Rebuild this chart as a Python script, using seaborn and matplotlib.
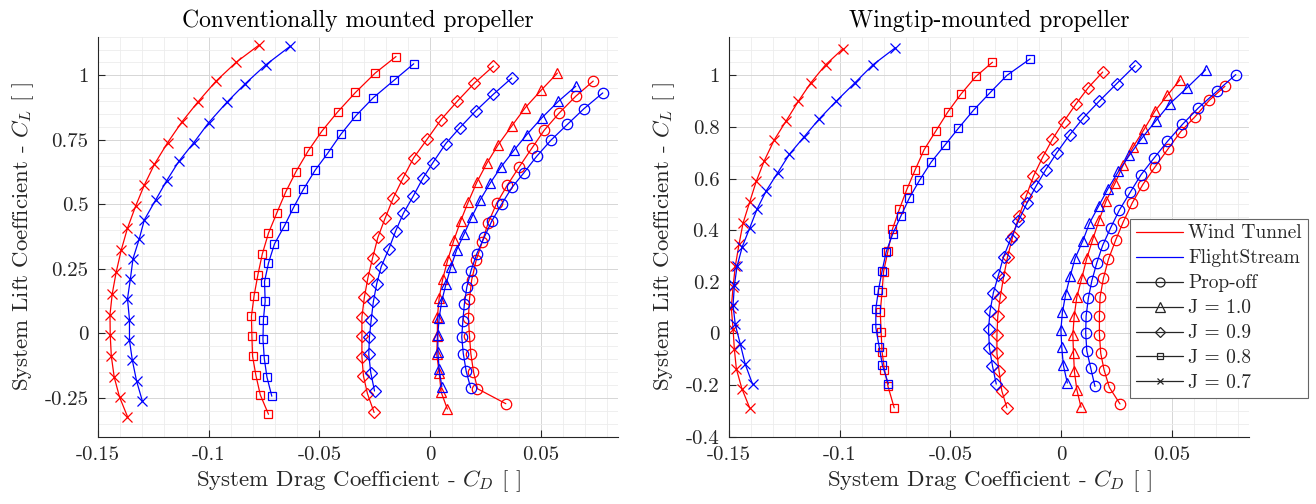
import numpy as np
import pandas as pd
import seaborn as sns
import matplotlib
matplotlib.use("Agg")
import matplotlib.pyplot as plt
from matplotlib.lines import Line2D
from matplotlib.ticker import MultipleLocator, FuncFormatter

# ---------------- data ----------------
# Conventionally mounted propeller -- Wind Tunnel
conv_wt_j07_cd = [-0.0772, -0.0876, -0.0968, -0.1049, -0.1121, -0.1186, -0.1245, -0.1291, -0.1330, -0.1367, -0.1395, -0.1418, -0.1436, -0.1446, -0.1445, -0.1440, -0.1427, -0.1403, -0.1367]
conv_wt_j07_cl = [1.118, 1.051, 0.977, 0.897, 0.820, 0.739, 0.656, 0.575, 0.494, 0.408, 0.324, 0.238, 0.153, 0.073, -0.006, -0.088, -0.169, -0.246, -0.322]
conv_wt_j08_cd = [-0.0154, -0.0248, -0.0337, -0.0418, -0.0489, -0.0551, -0.0606, -0.0653, -0.0692, -0.0730, -0.0758, -0.0778, -0.0795, -0.0807, -0.0805, -0.0802, -0.0787, -0.0767, -0.0730]
conv_wt_j08_cl = [1.073, 1.009, 0.934, 0.858, 0.784, 0.707, 0.627, 0.547, 0.468, 0.389, 0.308, 0.227, 0.147, 0.067, -0.010, -0.088, -0.162, -0.238, -0.313]
conv_wt_j09_cd = [0.0286, 0.0200, 0.0123, 0.0050, -0.0014, -0.0074, -0.0123, -0.0166, -0.0203, -0.0236, -0.0260, -0.0281, -0.0297, -0.0308, -0.0308, -0.0308, -0.0301, -0.0283, -0.0253]
conv_wt_j09_cl = [1.036, 0.970, 0.900, 0.829, 0.752, 0.681, 0.601, 0.526, 0.447, 0.372, 0.292, 0.215, 0.140, 0.064, -0.010, -0.090, -0.165, -0.233, -0.306]
conv_wt_j10_cd = [0.0575, 0.0501, 0.0430, 0.0369, 0.0308, 0.0256, 0.0211, 0.0173, 0.0138, 0.0108, 0.0080, 0.0057, 0.0041, 0.0033, 0.0033, 0.0030, 0.0041, 0.0050, 0.0078]
conv_wt_j10_cl = [1.009, 0.942, 0.875, 0.804, 0.732, 0.659, 0.586, 0.511, 0.436, 0.363, 0.286, 0.211, 0.138, 0.064, -0.010, -0.081, -0.152, -0.227, -0.293]
conv_wt_off_cd = [0.0737, 0.0659, 0.0584, 0.0516, 0.0459, 0.0403, 0.0349, 0.0301, 0.0263, 0.0236, 0.0208, 0.0188, 0.0178, 0.0173, 0.0178, 0.0184, 0.0196, 0.0214, 0.0342]
conv_wt_off_cl = [0.978, 0.920, 0.855, 0.788, 0.717, 0.646, 0.575, 0.505, 0.430, 0.356, 0.283, 0.208, 0.134, 0.061, -0.010, -0.078, -0.148, -0.214, -0.272]

# Conventionally mounted propeller -- FlightStream
conv_fs_j07_cd = [-0.0632, -0.0742, -0.0835, -0.0918, -0.1001, -0.1067, -0.1135, -0.1190, -0.1240, -0.1291, -0.1314, -0.1342, -0.1354, -0.1367, -0.1358, -0.1358, -0.1345, -0.1326, -0.1300]
conv_fs_j07_cl = [1.113, 1.041, 0.968, 0.896, 0.816, 0.740, 0.667, 0.592, 0.517, 0.440, 0.366, 0.290, 0.211, 0.134, 0.054, -0.027, -0.104, -0.184, -0.261]
conv_fs_j08_cd = [-0.0074, -0.0163, -0.0256, -0.0336, -0.0403, -0.0462, -0.0519, -0.0572, -0.0617, -0.0658, -0.0703, -0.0730, -0.0748, -0.0745, -0.0753, -0.0755, -0.0749, -0.0737, -0.0715]
conv_fs_j08_cl = [1.045, 0.981, 0.914, 0.843, 0.772, 0.699, 0.633, 0.559, 0.488, 0.417, 0.347, 0.273, 0.201, 0.125, 0.054, -0.023, -0.097, -0.169, -0.243]
conv_fs_j09_cd = [0.0369, 0.0286, 0.0206, 0.0135, 0.0071, 0.0012, -0.0033, -0.0075, -0.0121, -0.0156, -0.0186, -0.0221, -0.0241, -0.0256, -0.0266, -0.0274, -0.0277, -0.0268, -0.0251]
conv_fs_j09_cl = [0.990, 0.927, 0.862, 0.798, 0.736, 0.661, 0.601, 0.534, 0.465, 0.396, 0.328, 0.259, 0.193, 0.125, 0.054, -0.013, -0.081, -0.152, -0.223]
conv_fs_j10_cd = [0.0658, 0.0580, 0.0504, 0.0437, 0.0379, 0.0321, 0.0271, 0.0226, 0.0188, 0.0154, 0.0120, 0.0094, 0.0072, 0.0053, 0.0041, 0.0035, 0.0035, 0.0041, 0.0053]
conv_fs_j10_cl = [0.958, 0.900, 0.835, 0.771, 0.710, 0.646, 0.582, 0.517, 0.451, 0.386, 0.324, 0.258, 0.192, 0.127, 0.061, -0.004, -0.071, -0.139, -0.206]
conv_fs_off_cd = [0.0780, 0.0695, 0.0620, 0.0546, 0.0482, 0.0424, 0.0370, 0.0323, 0.0279, 0.0244, 0.0211, 0.0185, 0.0166, 0.0155, 0.0148, 0.0143, 0.0150, 0.0163, 0.0183]
conv_fs_off_cl = [0.932, 0.871, 0.810, 0.749, 0.687, 0.623, 0.566, 0.501, 0.436, 0.372, 0.309, 0.244, 0.180, 0.115, 0.050, -0.014, -0.078, -0.146, -0.210]

# Wingtip-mounted propeller -- Wind Tunnel
tip_wt_j07_cd = [-0.0986, -0.1064, -0.1130, -0.1187, -0.1242, -0.1296, -0.1341, -0.1377, -0.1407, -0.1437, -0.1455, -0.1472, -0.1482, -0.1490, -0.1482, -0.1476, -0.1467, -0.1442, -0.1407]
tip_wt_j07_cl = [1.103, 1.041, 0.972, 0.900, 0.824, 0.750, 0.669, 0.590, 0.509, 0.427, 0.346, 0.260, 0.180, 0.099, 0.019, -0.062, -0.137, -0.214, -0.288]
tip_wt_j08_cd = [-0.0310, -0.0385, -0.0453, -0.0512, -0.0565, -0.0619, -0.0659, -0.0697, -0.0731, -0.0762, -0.0782, -0.0802, -0.0809, -0.0817, -0.0813, -0.0809, -0.0798, -0.0782, -0.0754]
tip_wt_j08_cl = [1.051, 0.996, 0.927, 0.858, 0.786, 0.712, 0.635, 0.558, 0.481, 0.404, 0.320, 0.240, 0.160, 0.083, 0.006, -0.070, -0.140, -0.205, -0.288]
tip_wt_j09_cd = [0.0188, 0.0123, 0.0066, 0.0011, -0.0039, -0.0084, -0.0125, -0.0158, -0.0190, -0.0218, -0.0242, -0.0260, -0.0275, -0.0286, -0.0290, -0.0290, -0.0280, -0.0268, -0.0245]
tip_wt_j09_cl = [1.013, 0.953, 0.888, 0.820, 0.753, 0.682, 0.609, 0.532, 0.455, 0.378, 0.297, 0.218, 0.141, 0.068, -0.006, -0.077, -0.147, -0.222, -0.288]
tip_wt_j10_cd = [0.0537, 0.0480, 0.0424, 0.0375, 0.0326, 0.0281, 0.0244, 0.0203, 0.0172, 0.0143, 0.0116, 0.0093, 0.0071, 0.0059, 0.0053, 0.0056, 0.0060, 0.0071, 0.0090]
tip_wt_j10_cl = [0.983, 0.923, 0.862, 0.791, 0.724, 0.654, 0.583, 0.513, 0.440, 0.365, 0.291, 0.214, 0.141, 0.067, -0.006, -0.077, -0.147, -0.218, -0.286]
tip_wt_off_cd = [0.0740, 0.0670, 0.0605, 0.0540, 0.0482, 0.0424, 0.0369, 0.0322, 0.0281, 0.0247, 0.0214, 0.0191, 0.0176, 0.0173, 0.0173, 0.0179, 0.0194, 0.0218, 0.0266]
tip_wt_off_cl = [0.958, 0.904, 0.840, 0.782, 0.714, 0.645, 0.577, 0.507, 0.433, 0.363, 0.288, 0.214, 0.141, 0.068, -0.004, -0.077, -0.141, -0.209, -0.273]

# Wingtip-mounted propeller -- FlightStream
tip_fs_j07_cd = [-0.0749, -0.0850, -0.0933, -0.1016, -0.1093, -0.1163, -0.1227, -0.1281, -0.1332, -0.1374, -0.1407, -0.1440, -0.1464, -0.1476, -0.1482, -0.1472, -0.1449, -0.1427, -0.1394]
tip_fs_j07_cl = [1.107, 1.041, 0.970, 0.900, 0.831, 0.760, 0.695, 0.622, 0.553, 0.481, 0.408, 0.337, 0.260, 0.186, 0.109, 0.035, -0.042, -0.119, -0.196]
tip_fs_j08_cd = [-0.0140, -0.0245, -0.0321, -0.0396, -0.0464, -0.0524, -0.0587, -0.0640, -0.0685, -0.0724, -0.0760, -0.0790, -0.0809, -0.0825, -0.0837, -0.0837, -0.0822, -0.0807, -0.0780]
tip_fs_j08_cl = [1.064, 1.000, 0.933, 0.865, 0.795, 0.731, 0.664, 0.593, 0.526, 0.455, 0.387, 0.317, 0.241, 0.169, 0.096, 0.023, -0.051, -0.124, -0.196]
tip_fs_j09_cd = [0.0334, 0.0251, 0.0173, 0.0101, 0.0038, -0.0019, -0.0069, -0.0114, -0.0155, -0.0193, -0.0227, -0.0260, -0.0283, -0.0306, -0.0321, -0.0328, -0.0324, -0.0310, -0.0293]
tip_fs_j09_cl = [1.038, 0.968, 0.901, 0.836, 0.769, 0.701, 0.635, 0.570, 0.504, 0.436, 0.368, 0.297, 0.227, 0.158, 0.087, 0.017, -0.055, -0.126, -0.196]
tip_fs_j10_cd = [0.0653, 0.0570, 0.0492, 0.0428, 0.0364, 0.0308, 0.0259, 0.0211, 0.0169, 0.0128, 0.0098, 0.0063, 0.0041, 0.0021, 0.0006, -0.0001, 0.0003, 0.0010, 0.0028]
tip_fs_j10_cl = [1.022, 0.953, 0.891, 0.824, 0.756, 0.690, 0.628, 0.560, 0.493, 0.427, 0.359, 0.291, 0.222, 0.154, 0.083, 0.015, -0.054, -0.122, -0.192]
tip_fs_off_cd = [0.0789, 0.0703, 0.0620, 0.0548, 0.0480, 0.0420, 0.0361, 0.0312, 0.0263, 0.0224, 0.0188, 0.0161, 0.0139, 0.0123, 0.0113, 0.0111, 0.0116, 0.0134, 0.0153]
tip_fs_off_cl = [1.003, 0.938, 0.874, 0.810, 0.744, 0.680, 0.615, 0.547, 0.478, 0.410, 0.342, 0.273, 0.205, 0.137, 0.068, 0.003, -0.067, -0.135, -0.205]

panel_titles = ["Conventionally mounted propeller", "Wingtip-mounted propeller"]
source_names = ["Wind Tunnel", "FlightStream"]
case_names = ["Prop-off", "J = 1.0", "J = 0.9", "J = 0.8", "J = 0.7"]
xlabel_text = "System Drag Coefficient - $C_D$ [ ]"
ylabel_text = "System Lift Coefficient - $C_L$ [ ]"

panels = [
    {
        "Wind Tunnel": [(conv_wt_off_cd, conv_wt_off_cl), (conv_wt_j10_cd, conv_wt_j10_cl), (conv_wt_j09_cd, conv_wt_j09_cl), (conv_wt_j08_cd, conv_wt_j08_cl), (conv_wt_j07_cd, conv_wt_j07_cl)],
        "FlightStream": [(conv_fs_off_cd, conv_fs_off_cl), (conv_fs_j10_cd, conv_fs_j10_cl), (conv_fs_j09_cd, conv_fs_j09_cl), (conv_fs_j08_cd, conv_fs_j08_cl), (conv_fs_j07_cd, conv_fs_j07_cl)],
    },
    {
        "Wind Tunnel": [(tip_wt_off_cd, tip_wt_off_cl), (tip_wt_j10_cd, tip_wt_j10_cl), (tip_wt_j09_cd, tip_wt_j09_cl), (tip_wt_j08_cd, tip_wt_j08_cl), (tip_wt_j07_cd, tip_wt_j07_cl)],
        "FlightStream": [(tip_fs_off_cd, tip_fs_off_cl), (tip_fs_j10_cd, tip_fs_j10_cl), (tip_fs_j09_cd, tip_fs_j09_cl), (tip_fs_j08_cd, tip_fs_j08_cl), (tip_fs_j07_cd, tip_fs_j07_cl)],
    },
]

# ---------------- style ----------------
sns.set_theme(style="white")
plt.rcParams["font.family"] = ["cmr10", "DejaVu Serif"]
plt.rcParams["mathtext.fontset"] = "cm"
plt.rcParams["axes.unicode_minus"] = False
plt.rcParams["axes.formatter.use_mathtext"] = False

colors = {"Wind Tunnel": "#ff0000", "FlightStream": "#0000ff"}
markers = ["o", "^", "D", "s", "x"]
msizes = [7.5, 7.5, 6.6, 6.3, 6.5]
leg_msizes = [6.5, 6.5, 5.5, 5.0, 4.5]

fig = plt.figure(figsize=(13.16, 5.04), dpi=100)
ax_pos = [[0.0745, 0.1335, 0.3953, 0.7937], [0.5540, 0.1335, 0.3953, 0.7937]]
fmt = FuncFormatter(lambda v, p: ("%g" % round(v, 4)))

for pi, panel in enumerate(panels):
    ax = fig.add_axes(ax_pos[pi])
    for src in source_names:
        for ci, (cd, cl) in enumerate(panel[src]):
            df = pd.DataFrame({"CD": cd, "CL": cl})
            sns.lineplot(data=df, x="CD", y="CL", sort=False, estimator=None, ax=ax,
                         color=colors[src], lw=0.9, marker=markers[ci], markersize=msizes[ci],
                         markerfacecolor="none", markeredgecolor=colors[src], markeredgewidth=0.9,
                         legend=False)
    ax.set_xlim(-0.15, 0.085)
    ax.set_ylim(-0.4, 1.15)
    ax.xaxis.set_major_locator(MultipleLocator(0.05))
    ax.xaxis.set_minor_locator(MultipleLocator(0.01))
    if pi == 0:
        ax.set_yticks([-0.25, 0, 0.25, 0.5, 0.75, 1.0])
    else:
        ax.set_yticks([-0.4, -0.2, 0, 0.2, 0.4, 0.6, 0.8, 1.0])
    ax.yaxis.set_minor_locator(MultipleLocator(0.05))
    ax.xaxis.set_major_formatter(fmt)
    ax.yaxis.set_major_formatter(fmt)
    ax.grid(True, which="major", color="#d6d6d6", lw=0.7)
    ax.grid(True, which="minor", color="#ececec", lw=0.6)
    ax.set_axisbelow(True)
    for s in ["top", "right"]:
        ax.spines[s].set_visible(False)
    for s in ["left", "bottom"]:
        ax.spines[s].set_color("#262626")
        ax.spines[s].set_linewidth(0.8)
    ax.tick_params(which="major", direction="in", length=5, width=0.8, color="#262626",
                   labelsize=15, labelcolor="#262626", left=True, bottom=True, pad=7)
    ax.tick_params(which="minor", length=0)
    ax.set_xlabel(xlabel_text, fontsize=16.5, color="#262626", labelpad=3)
    ax.set_ylabel(ylabel_text, fontsize=16.5, color="#262626", labelpad=6)
    ax.set_title(panel_titles[pi], fontsize=17, color="black", pad=7)
    if pi == 1:
        handles = [Line2D([], [], color=colors[s], lw=0.9) for s in source_names]
        handles += [Line2D([], [], color="#262626", lw=0.9, marker=markers[i], markersize=leg_msizes[i],
                           markerfacecolor="none", markeredgecolor="#262626", markeredgewidth=0.9)
                    for i in range(len(case_names))]
        leg = ax.legend(handles, source_names + case_names, loc="lower left",
                        bbox_to_anchor=(1130 / 1316, (504 - 398) / 504), bbox_transform=fig.transFigure,
                        fontsize=14, frameon=True, fancybox=False, handlelength=2.45,
                        handletextpad=0.25, borderpad=0.3, labelspacing=0.36, borderaxespad=0)
        leg.get_frame().set_edgecolor("#666666")
        leg.get_frame().set_linewidth(0.8)
        leg.get_frame().set_alpha(1)

fig.savefig("out.png", dpi=100)
